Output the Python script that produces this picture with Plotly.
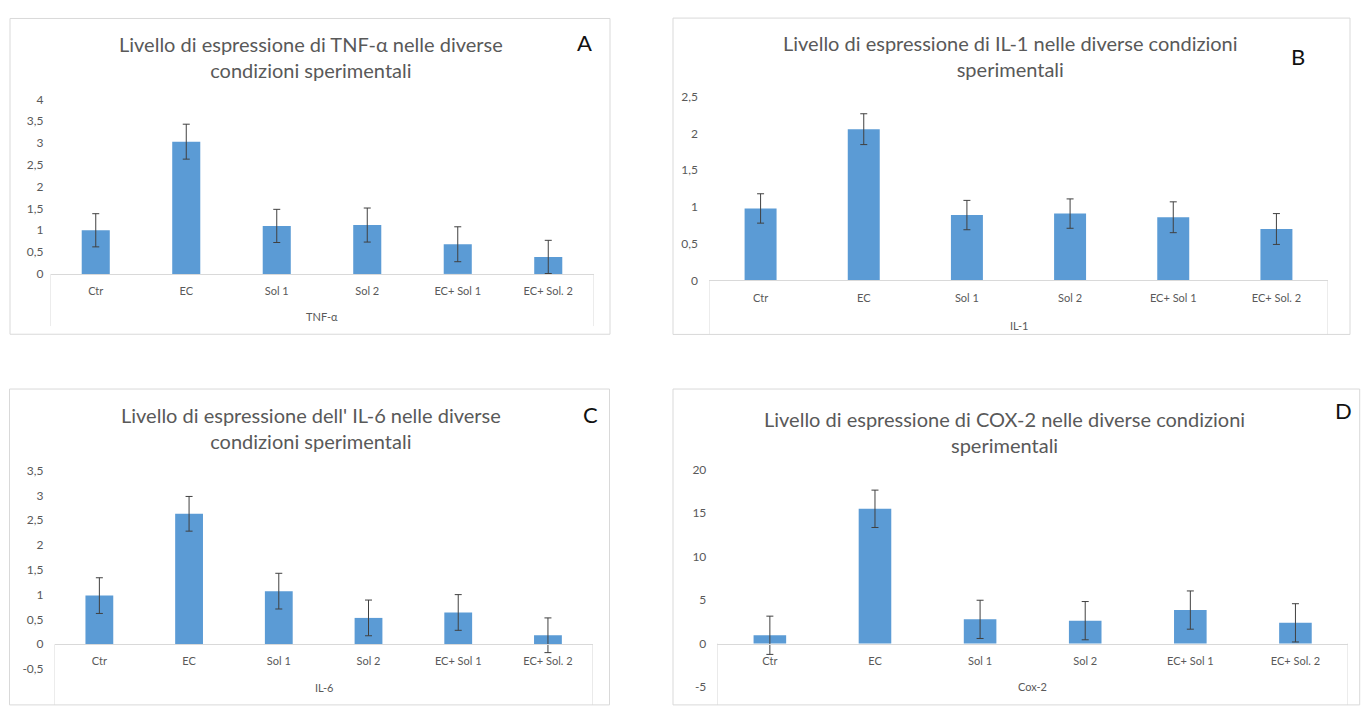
import plotly.graph_objects as go

W, H = 1363, 707

categories = ["Ctr", "EC", "Sol 1", "Sol 2", "EC+ Sol 1", "EC+ Sol. 2"]

tnf_values = [1.00, 3.03, 1.10, 1.12, 0.68, 0.39]
tnf_errors = [0.38, 0.40, 0.38, 0.39, 0.40, 0.38]
il1_values = [0.98, 2.06, 0.89, 0.91, 0.86, 0.70]
il1_errors = [0.20, 0.21, 0.20, 0.20, 0.21, 0.21]
il6_values = [0.98, 2.63, 1.07, 0.53, 0.64, 0.18]
il6_errors = [0.36, 0.35, 0.36, 0.36, 0.36, 0.35]
cox2_values = [0.95, 15.5, 2.78, 2.63, 3.85, 2.38]
cox2_errors = [2.20, 2.15, 2.20, 2.20, 2.20, 2.20]

tnf_ticks = [0, 0.5, 1, 1.5, 2, 2.5, 3, 3.5, 4]
il1_ticks = [0, 0.5, 1, 1.5, 2, 2.5]
il6_ticks = [-0.5, 0, 0.5, 1, 1.5, 2, 2.5, 3, 3.5]
cox2_ticks = [-5, 0, 5, 10, 15, 20]

titles = [
    "Livello di espressione di TNF-α nelle diverse<br>condizioni sperimentali",
    "Livello di espressione di IL-1 nelle diverse condizioni<br>sperimentali",
    "Livello di espressione dell' IL-6 nelle diverse<br>condizioni sperimentali",
    "Livello di espressione di COX-2 nelle diverse condizioni<br>sperimentali",
]
letters = ["A", "B", "C", "D"]
group_labels = ["TNF-α", "IL-1", "IL-6", "Cox-2"]

values = [tnf_values, il1_values, il6_values, cox2_values]
errors = [tnf_errors, il1_errors, il6_errors, cox2_errors]
ticks = [tnf_ticks, il1_ticks, il6_ticks, cox2_ticks]

# layout geometry in pixels
panels = [
    dict(box=(10, 10.7, 610, 333.3), px=(50.5, 593.5), py=(271.7, 93.3), zero=271.7, vbot=325,
         title=(310.5, 50), letter=(584.6, 35), group=315, ystand=6),
    dict(box=(673, 10.3, 1350, 333.5), px=(709, 1328), py=(278.3, 90.8), zero=278.3, vbot=333.5,
         title=(1010.4, 49.3), letter=(1298, 49.3), group=324, ystand=10),
    dict(box=(9.5, 389.3, 609.5, 712), px=(54.5, 592.8), py=(675.3, 472.7), zero=650, vbot=712,
         title=(310.5, 429.3), letter=(590.6, 415), group=694, ystand=10),
    dict(box=(673, 389.3, 1359.7, 712), px=(717.3, 1348), py=(693.7, 471.7), zero=649.3, vbot=712,
         title=(1004, 433.3), letter=(1343, 411.7), group=693.3, ystand=10),
]

FONT = "Lato, 'Open Sans', sans-serif"
GRAY = "#595959"
LINE = "#d9d9d9"


def fx(p):
    return p / W


def fy(p):
    return 1 - p / H


def fmt(v):
    return ("%g" % v).replace(".", ",")


fig = go.Figure()
shapes = []
annotations = []

for i, p in enumerate(panels):
    n = i + 1
    xa = "x" if n == 1 else f"x{n}"
    ya = "y" if n == 1 else f"y{n}"
    tk = ticks[i]
    fig.add_trace(go.Bar(
        x=categories, y=values[i], xaxis=xa, yaxis=ya,
        marker=dict(color="#5B9BD5", line=dict(width=0)),
        error_y=dict(type="data", array=errors[i], visible=True,
                     color="#404040", thickness=1, width=3.5),
        showlegend=False, hoverinfo="skip",
    ))
    xkey = "xaxis" if n == 1 else f"xaxis{n}"
    ykey = "yaxis" if n == 1 else f"yaxis{n}"
    fig.update_layout(**{
        xkey: dict(
            domain=[fx(p["px"][0]), fx(p["px"][1])],
            anchor="free", position=fy(p["zero"]),
            range=[-0.5, 5.5], showline=True, linecolor=LINE, linewidth=1,
            showgrid=False, zeroline=False, ticks="",
            tickfont=dict(family=FONT, size=11, color=GRAY),
            ticklabelstandoff=7, fixedrange=True,
        ),
        ykey: dict(
            domain=[fy(p["py"][0]), fy(p["py"][1])],
            anchor=xa, range=[tk[0], tk[-1]],
            tickvals=tk, ticktext=[fmt(v) for v in tk],
            showline=False, showgrid=False, zeroline=False, ticks="",
            tickfont=dict(family=FONT, size=12, color=GRAY),
            ticklabelstandoff=p["ystand"], fixedrange=True,
        ),
    })
    x0, y0, x1, y1 = p["box"]
    shapes.append(dict(type="rect", xref="paper", yref="paper",
                       x0=fx(x0), x1=fx(x1), y0=fy(y1), y1=fy(y0),
                       line=dict(color=LINE, width=1), layer="below"))
    for xv in (-0.5, 5.5):
        shapes.append(dict(type="line", xref=xa, yref="paper",
                           x0=xv, x1=xv, y0=fy(p["zero"]), y1=fy(p["vbot"]),
                           line=dict(color=LINE, width=1)))
    annotations.append(dict(text=titles[i], xref="paper", yref="paper",
                            x=fx(p["title"][0]), y=fy(p["title"][1]),
                            xanchor="center", yanchor="middle", showarrow=False,
                            font=dict(family=FONT, size=20, color=GRAY)))
    annotations.append(dict(text=letters[i], xref="paper", yref="paper",
                            x=fx(p["letter"][0]), y=fy(p["letter"][1]),
                            xanchor="center", yanchor="middle", showarrow=False,
                            font=dict(family=FONT, size=22, color="#111111")))
    annotations.append(dict(text=group_labels[i], xref=f"{xa} domain", yref="paper",
                            x=0.5, y=fy(p["group"]),
                            xanchor="center", yanchor="middle", showarrow=False,
                            font=dict(family=FONT, size=11, color=GRAY)))

fig.update_layout(
    width=W, height=H,
    margin=dict(l=0, r=0, t=0, b=0),
    paper_bgcolor="white", plot_bgcolor="white",
    bargap=0.69,
    shapes=shapes, annotations=annotations,
    separators=",.",
)

fig.write_html(
    "out.html",
    config={"displayModeBar": False},
    post_script="document.body.style.margin='0';document.documentElement.style.overflow='hidden';",
)
